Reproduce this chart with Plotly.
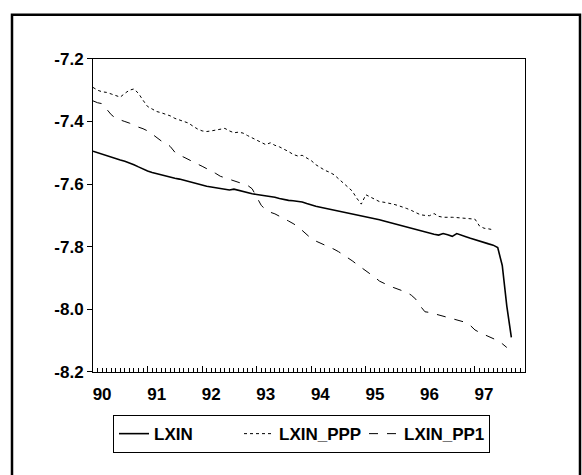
import plotly.graph_objects as go

# Monthly observations starting 1990M01
start_year = 1990
lxin = [-7.495, -7.500, -7.505, -7.510, -7.514, -7.518, -7.523, -7.527, -7.532, -7.538,
        -7.545, -7.552, -7.558, -7.563, -7.567, -7.571, -7.575, -7.578, -7.581, -7.584,
        -7.588, -7.592, -7.597, -7.601, -7.604, -7.607, -7.609, -7.612, -7.614, -7.617,
        -7.619, -7.616, -7.620, -7.624, -7.628, -7.631, -7.633, -7.635, -7.637, -7.639,
        -7.642, -7.646, -7.650, -7.652, -7.653, -7.654, -7.657, -7.662, -7.667, -7.671,
        -7.674, -7.677, -7.680, -7.683, -7.686, -7.689, -7.692, -7.695, -7.698, -7.700,
        -7.703, -7.706, -7.710, -7.714, -7.718, -7.722, -7.726, -7.730, -7.734, -7.738,
        -7.742, -7.745, -7.749, -7.753, -7.757, -7.760, -7.763, -7.758, -7.762, -7.767,
        -7.758, -7.762, -7.768, -7.773, -7.778, -7.783, -7.787, -7.791, -7.795, -7.803,
        -7.860, -7.990, -8.090]
lxin_ppp = [-7.291, -7.300, -7.305, -7.307, -7.312, -7.318, -7.322, -7.310, -7.300, -7.296,
            -7.310, -7.332, -7.352, -7.360, -7.368, -7.372, -7.377, -7.382, -7.390, -7.395,
            -7.398, -7.405, -7.415, -7.424, -7.430, -7.432, -7.430, -7.428, -7.424, -7.422,
            -7.430, -7.436, -7.434, -7.437, -7.445, -7.452, -7.460, -7.468, -7.474, -7.468,
            -7.476, -7.481, -7.488, -7.496, -7.505, -7.510, -7.508, -7.516, -7.525, -7.538,
            -7.548, -7.556, -7.562, -7.570, -7.583, -7.596, -7.606, -7.622, -7.645, -7.664,
            -7.634, -7.642, -7.650, -7.656, -7.658, -7.660, -7.664, -7.668, -7.672, -7.678,
            -7.684, -7.690, -7.698, -7.700, -7.701, -7.694, -7.703, -7.706, -7.705, -7.706,
            -7.707, -7.708, -7.709, -7.710, -7.712, -7.734, -7.741, -7.743, -7.746]
lxin_pp1 = [-7.334, -7.340, -7.343, -7.360, -7.378, -7.390, -7.396, -7.400, -7.405, -7.412,
            -7.418, -7.423, -7.430, -7.440, -7.450, -7.462, -7.468, -7.480, -7.498, -7.508,
            -7.514, -7.522, -7.528, -7.536, -7.543, -7.550, -7.558, -7.566, -7.575, -7.580,
            -7.585, -7.590, -7.594, -7.598, -7.604, -7.615, -7.640, -7.668, -7.682, -7.690,
            -7.695, -7.702, -7.710, -7.718, -7.726, -7.735, -7.748, -7.762, -7.774, -7.782,
            -7.788, -7.794, -7.800, -7.808, -7.816, -7.825, -7.834, -7.845, -7.856, -7.866,
            -7.876, -7.886, -7.898, -7.910, -7.918, -7.924, -7.930, -7.936, -7.940, -7.946,
            -7.955, -7.968, -7.990, -8.008, -8.010, -8.014, -8.018, -8.022, -8.026, -8.030,
            -8.035, -8.038, -8.042, -8.052, -8.066, -8.074, -8.080, -8.088, -8.094, -8.100,
            -8.110, -8.122]
year_labels = ["90", "91", "92", "93", "94", "95", "96", "97"]
y_ticks = [-8.2, -8.0, -7.8, -7.6, -7.4, -7.2]
y_labels = ["-8.2", "-8.0", "-7.8", "-7.6", "-7.4", "-7.2"]
n_months = 96  # sample 1990M01-1997M12


def t(series):
    return [start_year + i / 12 for i in range(len(series))]


FONT = "Liberation Sans, Arial, sans-serif"
TF = dict(family=FONT, size=17, weight="bold", color="black")
fig = go.Figure()
fig.add_trace(go.Scatter(x=t(lxin), y=lxin, mode="lines", name="LXIN",
                         line=dict(color="black", width=1.6, dash="solid")))
fig.add_trace(go.Scatter(x=t(lxin_ppp), y=lxin_ppp, mode="lines", name="LXIN_PPP",
                         line=dict(color="black", width=1, dash="dot")))
fig.add_trace(go.Scatter(x=t(lxin_pp1), y=lxin_pp1, mode="lines", name="LXIN_PP1",
                         line=dict(color="black", width=1, dash="dash")))
# invisible trace on the label axis
fig.add_trace(go.Scatter(x=[start_year], y=[lxin[0]], xaxis="x2", mode="lines",
                         showlegend=False, hoverinfo="skip", line=dict(width=0)))

xr = [start_year, start_year + (n_months - 1) / 12]
years = [start_year + k for k in range(len(year_labels))]
xdom = [93 / 582, 525 / 582]
fig.update_layout(
    width=582, height=475,
    margin=dict(l=0, r=0, t=0, b=0),
    paper_bgcolor="white", plot_bgcolor="white",
    font=dict(family=FONT, size=17, color="black"),
    xaxis=dict(domain=xdom, range=xr, showgrid=False, zeroline=False,
               showline=True, linecolor="black", linewidth=1, mirror=True,
               tickmode="array", tickvals=years, showticklabels=False,
               ticks="inside", ticklen=6, tickcolor="black", tickwidth=1,
               minor=dict(tick0=start_year, dtick=1 / 12, ticks="inside",
                          ticklen=4, tickcolor="black", tickwidth=1, showgrid=False)),
    xaxis2=dict(domain=xdom, range=xr, overlaying="x", anchor="y", side="bottom",
                showgrid=False, zeroline=False, showline=False, ticks="",
                tickmode="array", tickvals=[y + 2 / 12 for y in years],
                ticktext=year_labels, ticklabelstandoff=10, tickfont=TF),
    yaxis=dict(domain=[(475 - 378) / 475, (475 - 52) / 475], range=[-8.2, -7.2],
               showgrid=False, zeroline=False, showline=True, linecolor="black",
               linewidth=1, mirror=True, tickmode="array", tickvals=y_ticks,
               ticktext=y_labels, ticks="outside", ticklen=5, tickcolor="black",
               tickfont=TF),
    legend=dict(orientation="h", x=113 / 582, y=(475 - 423) / 475,
                xanchor="left", yanchor="top", bordercolor="black", borderwidth=1,
                bgcolor="white", font=TF, entrywidth=80, entrywidthmode="pixels"),
    shapes=[dict(type="rect", xref="paper", yref="paper",
                 x0=12 / 582, x1=580 / 582, y0=-0.05, y1=(475 - 6) / 475,
                 line=dict(color="black", width=2.5), fillcolor="rgba(0,0,0,0)")],
    showlegend=True,
)
fig.write_html("out.html")
